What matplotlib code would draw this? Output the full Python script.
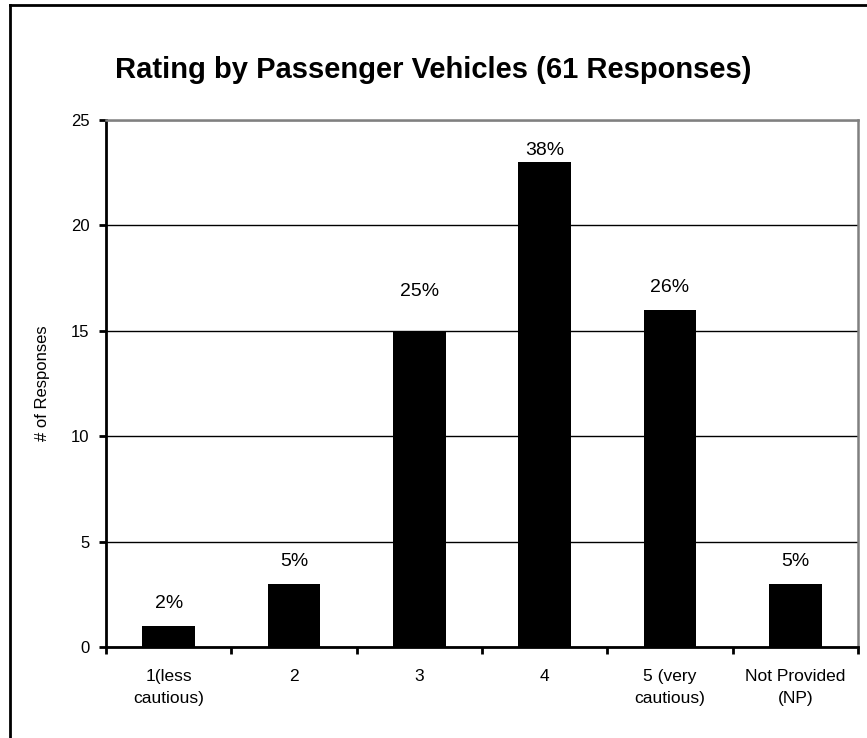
import matplotlib
matplotlib.use("Agg")
import matplotlib.pyplot as plt
from matplotlib.lines import Line2D

plt.rcParams['font.family'] = ['Liberation Sans', 'DejaVu Sans']

# Survey data
categories = ["1(less\ncautious)", "2", "3", "4", "5 (very\ncautious)", "Not Provided\n(NP)"]
responses = [1, 3, 15, 23, 16, 3]
total_responses = 61
y_ticks = [0, 5, 10, 15, 20, 25]

title = "Rating by Passenger Vehicles (61 Responses)"
y_label = "# of Responses"

# vertical gap (points) between each bar top and its percentage label
label_offsets = [13, 13, 25, 5, 13, 13]

W, H, DPI = 867, 738, 100
fig = plt.figure(figsize=(W / DPI, H / DPI), dpi=DPI)
fig.patch.set_facecolor("white")

# plot area in pixel coordinates
left_px, right_px, top_px, bottom_px = 106, 858, 120, 647
ax = fig.add_axes([left_px / W, 1 - bottom_px / H,
                   (right_px - left_px) / W, (bottom_px - top_px) / H])

x = list(range(len(categories)))
ax.bar(x, responses, width=0.42, color="black", zorder=3)

ax.set_xlim(-0.5, len(categories) - 0.5)
ax.set_ylim(0, 25)
ax.set_yticks(y_ticks)
ax.set_yticklabels([str(t) for t in y_ticks], fontsize=12)

# horizontal gridlines
ax.yaxis.grid(True, color="black", linewidth=1.0, zorder=1)
ax.set_axisbelow(True)

# category labels centred, tick marks at category boundaries
ax.set_xticks(x)
ax.set_xticklabels(categories, fontsize=12.5, linespacing=1.6)
ax.tick_params(axis="x", which="major", length=0, pad=16)
ax.set_xticks([i - 0.5 for i in range(len(categories) + 1)], minor=True)
ax.tick_params(axis="x", which="minor", length=5, width=2, direction="out", color="black")
ax.tick_params(axis="y", length=5, width=2, direction="out", color="black", pad=7)

for side in ("left", "bottom"):
    ax.spines[side].set_color("black")
    ax.spines[side].set_linewidth(2)
for side in ("top", "right"):
    ax.spines[side].set_color("#808080")
    ax.spines[side].set_linewidth(1.8)

# percentage labels above bars
for xi, n, off in zip(x, responses, label_offsets):
    pct = round(100 * n / total_responses)
    ax.annotate(f"{pct}%", xy=(xi, n), xytext=(0, off), textcoords="offset points",
                ha="center", va="baseline", fontsize=14, color="black")

ax.set_ylabel(y_label, fontsize=12)
ax.yaxis.set_label_coords((50 - left_px) / (right_px - left_px), 0.5)

fig.text(0.5, 1 - 70 / H, title, ha="center", va="center",
         fontsize=21, fontweight="bold")

# outer frame (left and top edges visible)
fig.add_artist(Line2D([10 / W, 10 / W], [0, 1 - 5 / H], transform=fig.transFigure,
                      color="black", linewidth=2))
fig.add_artist(Line2D([10 / W, 1], [1 - 5 / H, 1 - 5 / H], transform=fig.transFigure,
                      color="black", linewidth=2))

fig.savefig("out.png", dpi=DPI)
